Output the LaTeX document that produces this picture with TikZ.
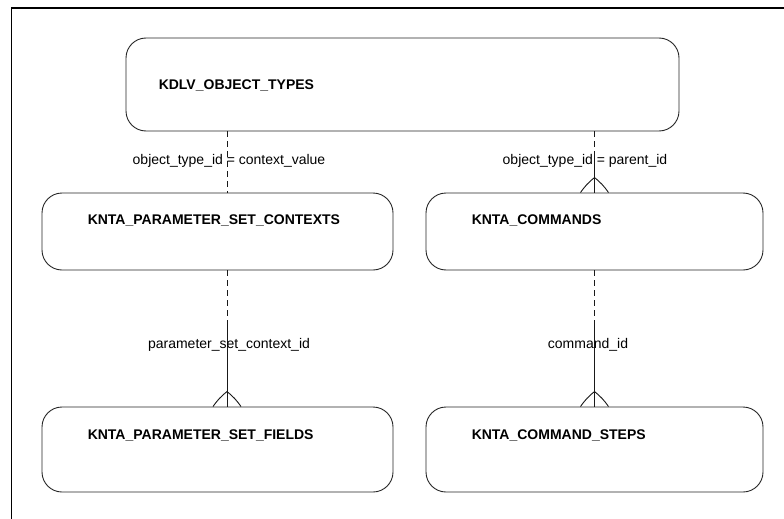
\documentclass[tikz,border=0pt]{standalone}
\usepackage{fontspec}
\setmainfont{Liberation Sans}
\usetikzlibrary{positioning}

\tikzset{
  table/.style={draw=black!85, line width=0.9pt, rounded corners=20pt, inner sep=0pt},
  tname/.style={anchor=base west, font=\fontsize{14}{16}\selectfont\bfseries, inner sep=0pt},
  rel/.style={font=\fontsize{14}{16}\selectfont, inner sep=0pt},
  link/.style={draw=black!90, line width=0.9pt},
  opt/.style={link, dash pattern=on 6pt off 4pt}
}

\begin{document}
\begin{tikzpicture}[x=1pt,y=-1pt]
            \useasboundingbox (0,0) rectangle (784,519);
            \draw[line width=1.2pt] (11.5,519) -- (11.5,8) -- (784,8);

            % tables
            \node[table, minimum width=553pt, minimum height=93pt] (objtypes) at (402.5,84.5) {};
            \node[table, minimum width=351pt, minimum height=77pt] (ctx) at (217.5,231.5) {};
            \node[table, minimum width=337pt, minimum height=77pt] (cmd) at (594.5,231.5) {};
            \node[table, minimum width=351pt, minimum height=85pt] (fields) at (217.5,449.5) {};
            \node[table, minimum width=337pt, minimum height=85pt] (steps) at (594.5,449.5) {};

            \node[tname] (objtypestxt) at ([xshift=33pt,yshift=-52pt]objtypes.north west) {KDLV\_OBJECT\_TYPES};
            \node[tname] (ctxtxt) at ([xshift=46pt,yshift=-32pt]ctx.north west) {KNTA\_PARAMETER\_SET\_CONTEXTS};
            \node[tname] (cmdtxt) at ([xshift=46pt,yshift=-32pt]cmd.north west) {KNTA\_COMMANDS};
            \node[tname] (fieldstxt) at ([xshift=46pt,yshift=-33pt]fields.north west) {KNTA\_PARAMETER\_SET\_FIELDS};
            \node[tname] (stepstxt) at ([xshift=46pt,yshift=-33pt]steps.north west) {KNTA\_COMMAND\_STEPS};

            % relations
            \coordinate (lx) at (227,0);
            \coordinate (m1) at (594.5,157);
            \coordinate (m2) at (227,320);
            \coordinate (m3) at (594.5,320);
            \coordinate (f1) at (fields.north -| lx);

            \draw[opt] (objtypes.south -| lx) -- (ctx.north -| lx);

            \draw[opt] (objtypes.south -| m1) -- (m1);
            \draw[link] (m1) -- (cmd.north);

            \draw[opt] (ctx.south -| m2) -- (m2);
            \draw[link] (m2) -- (f1);

            \draw[opt] (cmd.south) -- (m3);
            \draw[link] (m3) -- (steps.north);

            % crow's feet
            \foreach \t in {cmd.north, steps.north, f1}
                \draw[link] ([xshift=-14pt]\t) to[bend left=8] ([yshift=15pt]\t) to[bend left=8] ([xshift=14pt]\t);

            % labels
            \node[rel] (r1) at (229,161) {object\_type\_id = context\_value};
            \node[rel] (r2) at (585,161) {object\_type\_id = parent\_id};
            \node[rel] (r3) at (229,345) {parameter\_set\_context\_id};
            \node[rel] (r4) at (588,345) {command\_id};
        \end{tikzpicture}
\end{document}
